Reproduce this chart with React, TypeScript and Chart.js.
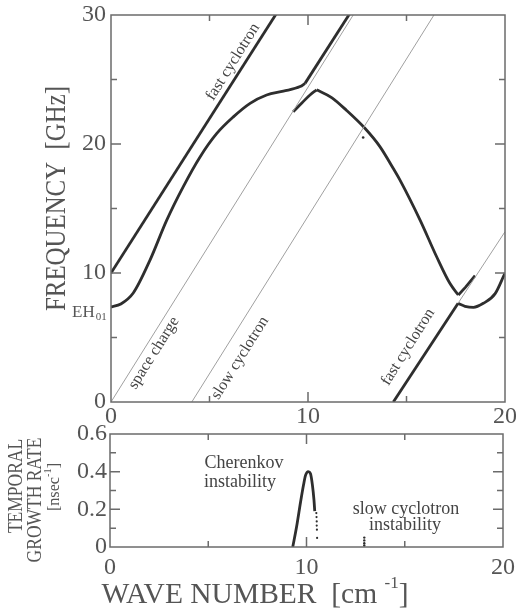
import { useEffect, useRef } from "react";
import { Chart, registerables } from "chart.js";

Chart.register(...registerables);

// ---------------- Top panel: dispersion ----------------
const waveTicks = [0, 10, 20];
const freqTicks = [0, 10, 20, 30];
const waveTickMarks = [5, 10, 15];
const freqTickMarks = [5, 10, 15, 20, 25];

// beam lines (thin)
const spaceK = [0, 12.5];
const spaceF = [0, 30.5];
const slowCycK = [4.1, 16.6];
const slowCycF = [0, 30.5];
const fastCyc2K = [17.62, 20];
const fastCyc2F = [7.66, 13.2];

// thick branches
const fastCycK = [0, 8.6];
const fastCycF = [10, 30.6];
const eh01K = [0, 0.5, 1.13, 1.98, 2.83, 3.67, 4.52, 5.36, 6.21, 7.06, 7.9, 8.75, 9.6, 9.85];
const eh01F = [7.36, 7.6, 8.45, 11.0, 14.1, 16.7, 19.0, 20.8, 22.1, 23.15, 23.8, 24.1, 24.45, 24.7];
const upperK = [9.85, 12.2];
const upperF = [24.7, 30.3];
const riseK = [9.25, 9.7, 10.1, 10.44];
const riseF = [22.5, 23.2, 23.8, 24.2];
const fallK = [10.44, 11.2, 11.96, 12.9, 13.65, 14.33, 14.67, 15.69, 16.53, 17.2, 17.63];
const fallF = [24.2, 23.6, 22.6, 21.2, 19.8, 18.1, 17.2, 14.1, 11.26, 9.2, 8.3];
const hookK = [17.63, 18.0, 18.48];
const hookF = [8.3, 8.9, 9.8];
const fastLineK = [14.33, 17.62];
const fastLineF = [0, 7.66];
const fastBranchK = [17.62, 17.75, 17.97, 18.4, 18.9, 19.5, 20];
const fastBranchF = [7.66, 7.55, 7.42, 7.34, 7.65, 8.4, 10.0];
const dotK = [12.8];
const dotF = [20.5];

// ---------------- Bottom panel: growth rate ----------------
const rateTicks = [0, 0.2, 0.4, 0.6];
const rateTickMarks = [0.1, 0.2, 0.3, 0.4, 0.5];
const cherK = [9.3, 9.5, 9.7, 9.85, 9.95, 10.09, 10.2, 10.3, 10.38, 10.42];
const cherR = [0, 0.11, 0.24, 0.33, 0.38, 0.4, 0.39, 0.33, 0.25, 0.19];
const cherTailK = [10.5, 10.51, 10.52, 10.52, 10.53, 10.54];
const cherTailR = [0.18, 0.159, 0.136, 0.114, 0.092, 0.048];
const slowInstK = [12.94, 12.94, 12.94, 12.94];
const slowInstR = [0.05, 0.035, 0.02, 0.008];

const SERIF = "'Liberation Serif', serif";
const TEXT = "#555555";
const THICK = "#2e2e2e";
const THIN = "#a0a0a0";
const FRAME = "#6b6b6b";

const zip = (xs: number[], ys: number[]) => xs.map((x, i) => ({ x, y: ys[i] }));

type Seg = { t: string; size: number; rise?: number };

function drawRich(
  ctx: CanvasRenderingContext2D,
  segs: Seg[],
  cx: number,
  cy: number,
  angle: number,
  color: string,
  sx = 1,
  sy = 1
) {
  ctx.save();
  ctx.translate(cx, cy);
  ctx.rotate(angle);
  ctx.scale(sx, sy);
  ctx.fillStyle = color;
  ctx.textBaseline = "middle";
  ctx.textAlign = "left";
  let total = 0;
  const widths = segs.map((s) => {
    ctx.font = `${s.size}px ${SERIF}`;
    const w = ctx.measureText(s.t).width;
    total += w;
    return w;
  });
  let x = -total / 2;
  segs.forEach((s, i) => {
    ctx.font = `${s.size}px ${SERIF}`;
    ctx.fillText(s.t, x, -(s.rise || 0));
    x += widths[i];
  });
  ctx.restore();
}

function drawFrameTicks(
  chart: any,
  xMarks: number[],
  yMarks: number[],
  xMajor: (v: number) => boolean,
  yMajor: (v: number) => boolean
) {
  const { ctx, chartArea: a, scales } = chart;
  const xs = scales.x;
  const ys = scales.y;
  ctx.save();
  ctx.strokeStyle = FRAME;
  ctx.lineWidth = 1.5;
  ctx.strokeRect(a.left, a.top, a.right - a.left, a.bottom - a.top);
  ctx.beginPath();
  xMarks.forEach((v) => {
    const p = xs.getPixelForValue(v);
    const len = xMajor(v) ? 10 : 6;
    ctx.moveTo(p, a.bottom);
    ctx.lineTo(p, a.bottom - len);
    ctx.moveTo(p, a.top);
    ctx.lineTo(p, a.top + len);
  });
  yMarks.forEach((v) => {
    const p = ys.getPixelForValue(v);
    const len = yMajor(v) ? 10 : 6;
    ctx.moveTo(a.left, p);
    ctx.lineTo(a.left + len, p);
    ctx.moveTo(a.right, p);
    ctx.lineTo(a.right - len, p);
  });
  ctx.stroke();
  ctx.restore();
}

function lineAngle(xs: any, ys: any, k: number[], f: number[]) {
  const dx = xs.getPixelForValue(k[1]) - xs.getPixelForValue(k[0]);
  const dy = ys.getPixelForValue(f[1]) - ys.getPixelForValue(f[0]);
  return Math.atan2(dy, dx);
}

const topPlugin = {
  id: "topDecor",
  afterDatasetsDraw(chart: any) {
    const { ctx, chartArea: a, scales } = chart;
    const xs = scales.x;
    const ys = scales.y;
    drawFrameTicks(chart, waveTickMarks, freqTickMarks, (v) => v % 10 === 0, (v) => v % 10 === 0);
    const ang = lineAngle(xs, ys, spaceK, spaceF);
    const P = (k: number, f: number) => [xs.getPixelForValue(k), ys.getPixelForValue(f)];
    let [px, py] = P(6.19, 26.36);
    drawRich(ctx, [{ t: "fast cyclotron", size: 16 }], px, py, ang, "#444");
    [px, py] = P(2.18, 3.8);
    drawRich(ctx, [{ t: "space charge", size: 16 }], px, py, ang, "#444");
    [px, py] = P(6.55, 3.41);
    drawRich(ctx, [{ t: "slow cyclotron", size: 16 }], px, py, ang, "#444");
    [px, py] = P(15.08, 4.26);
    drawRich(ctx, [{ t: "fast cyclotron", size: 16 }], px, py, ang, "#444");
    // EH01 label
    ctx.save();
    ctx.fillStyle = TEXT;
    ctx.textAlign = "left";
    ctx.textBaseline = "alphabetic";
    const by = ys.getPixelForValue(eh01F[0]) + 10;
    ctx.font = `17px ${SERIF}`;
    ctx.fillText("EH", a.left - 39, by);
    const w = ctx.measureText("EH").width;
    ctx.font = `11px ${SERIF}`;
    ctx.fillText("01", a.left - 39 + w + 1, by + 3);
    ctx.restore();
    // y title
    drawRich(ctx, [{ t: "FREQUENCY  [GHz]", size: 27 }], 57, 198.5, -Math.PI / 2, TEXT, 0.92, 1.08);
  },
};

const botPlugin = {
  id: "botDecor",
  afterDatasetsDraw(chart: any) {
    const { ctx, scales } = chart;
    const xs = scales.x;
    const ys = scales.y;
    drawFrameTicks(
      chart,
      waveTickMarks,
      rateTickMarks,
      (v) => v % 10 === 0,
      (v) => Math.abs(v - 0.2) < 1e-6 || Math.abs(v - 0.4) < 1e-6
    );
    const P = (k: number, r: number) => [xs.getPixelForValue(k), ys.getPixelForValue(r)];
    let [px, py] = P(6.82, 0.446);
    drawRich(ctx, [{ t: "Cherenkov", size: 18 }], px, py, 0, "#444");
    [px, py] = P(6.62, 0.345);
    drawRich(ctx, [{ t: "instability", size: 18 }], px, py, 0, "#444");
    [px, py] = P(15.06, 0.203);
    drawRich(ctx, [{ t: "slow cyclotron", size: 18 }], px, py, 0, "#444");
    [px, py] = P(15.01, 0.118);
    drawRich(ctx, [{ t: "instability", size: 18 }], px, py, 0, "#444");
    // y titles
    drawRich(ctx, [{ t: "TEMPORAL", size: 19 }], 17, 486, -Math.PI / 2, TEXT, 0.92, 1.05);
    drawRich(ctx, [{ t: "GROWTH RATE", size: 19 }], 36, 500, -Math.PI / 2, TEXT, 0.92, 1.05);
    drawRich(
      ctx,
      [
        { t: "[nsec", size: 17 },
        { t: "-1", size: 11, rise: 7 },
        { t: "]", size: 17 },
      ],
      55,
      487,
      -Math.PI / 2,
      TEXT,
      0.95,
      1.0
    );
    // x title
    drawRich(
      ctx,
      [
        { t: "WAVE NUMBER  [cm ", size: 29.5 },
        { t: "-1", size: 17, rise: 11 },
        { t: "]", size: 29.5 },
      ],
      255,
      595,
      0,
      TEXT
    );
  },
};

const thin = (k: number[], f: number[]) => ({
  data: zip(k, f),
  showLine: true,
  borderColor: THIN,
  borderWidth: 1,
  pointRadius: 0,
  tension: 0,
});
const thick = (k: number[], f: number[], mono = false) => ({
  data: zip(k, f),
  showLine: true,
  borderColor: THICK,
  borderWidth: 2.8,
  pointRadius: 0,
  tension: 0,
  cubicInterpolationMode: mono ? "monotone" : "default",
});
const dots = (k: number[], f: number[], r = 1.2) => ({
  data: zip(k, f),
  showLine: false,
  borderColor: THICK,
  backgroundColor: THICK,
  borderWidth: 0,
  pointRadius: r,
});

const tickFont = { family: SERIF, size: 24 };

function xScale(height: number, padding: number) {
  return {
    type: "linear",
    min: 0,
    max: 20,
    grid: { display: false, drawTicks: false },
    border: { display: false },
    ticks: { font: tickFont, color: TEXT, padding, maxRotation: 0, autoSkip: false },
    afterBuildTicks: (s: any) => {
      s.ticks = waveTicks.map((v) => ({ value: v }));
    },
    afterFit: (s: any) => {
      s.height = height;
      s.paddingLeft = 0;
      s.paddingRight = 0;
    },
  };
}

function yScale(min: number, max: number, ticksArr: number[], width: number, padding: number) {
  return {
    type: "linear",
    min,
    max,
    grid: { display: false, drawTicks: false },
    border: { display: false },
    ticks: { font: tickFont, color: TEXT, padding, autoSkip: false },
    afterBuildTicks: (s: any) => {
      s.ticks = ticksArr.map((v) => ({ value: v }));
    },
    afterFit: (s: any) => {
      s.width = width;
      s.paddingTop = 0;
      s.paddingBottom = 0;
    },
  };
}

export default function App() {
  const topRef = useRef<HTMLCanvasElement>(null);
  const botRef = useRef<HTMLCanvasElement>(null);

  useEffect(() => {
    const common = {
      responsive: false,
      animation: false,
      events: [],
      plugins: { legend: { display: false }, tooltip: { enabled: false } },
    };
    const top = new Chart(topRef.current as HTMLCanvasElement, {
      type: "scatter",
      data: {
        datasets: [
          thin(spaceK, spaceF),
          thin(slowCycK, slowCycF),
          thin(fastCyc2K, fastCyc2F),
          thick(fastCycK, fastCycF),
          thick(eh01K, eh01F, true),
          thick(upperK, upperF),
          thick(riseK, riseF, true),
          thick(fallK, fallF, true),
          thick(hookK, hookF),
          thick(fastLineK, fastLineF),
          thick(fastBranchK, fastBranchF, true),
          dots(dotK, dotF, 1.3),
        ] as any,
      },
      options: {
        ...common,
        layout: { padding: { left: 0, top: 15, right: 11, bottom: 179 } },
        scales: {
          x: xScale(30, 0),
          y: yScale(0, 30, freqTicks, 111, 5),
        },
      } as any,
      plugins: [topPlugin],
    });
    const bot = new Chart(botRef.current as HTMLCanvasElement, {
      type: "scatter",
      data: {
        datasets: [
          thick(cherK, cherR, true),
          dots(cherTailK, cherTailR, 1.1),
          dots(slowInstK, slowInstR, 1.2),
        ] as any,
      },
      options: {
        ...common,
        layout: { padding: { left: 0, top: 434, right: 13, bottom: 34 } },
        scales: {
          x: xScale(30, 6),
          y: yScale(0, 0.6, rateTicks, 110, 3),
        },
      } as any,
      plugins: [botPlugin],
    });
    return () => {
      top.destroy();
      bot.destroy();
    };
  }, []);

  return (
    <div style={{ position: "fixed", left: 0, top: 0, width: 516, height: 611, background: "#fff" }}>
      <canvas ref={topRef} width={516} height={611} style={{ position: "absolute", left: 0, top: 0 }} />
      <canvas ref={botRef} width={516} height={611} style={{ position: "absolute", left: 0, top: 0 }} />
    </div>
  );
}
